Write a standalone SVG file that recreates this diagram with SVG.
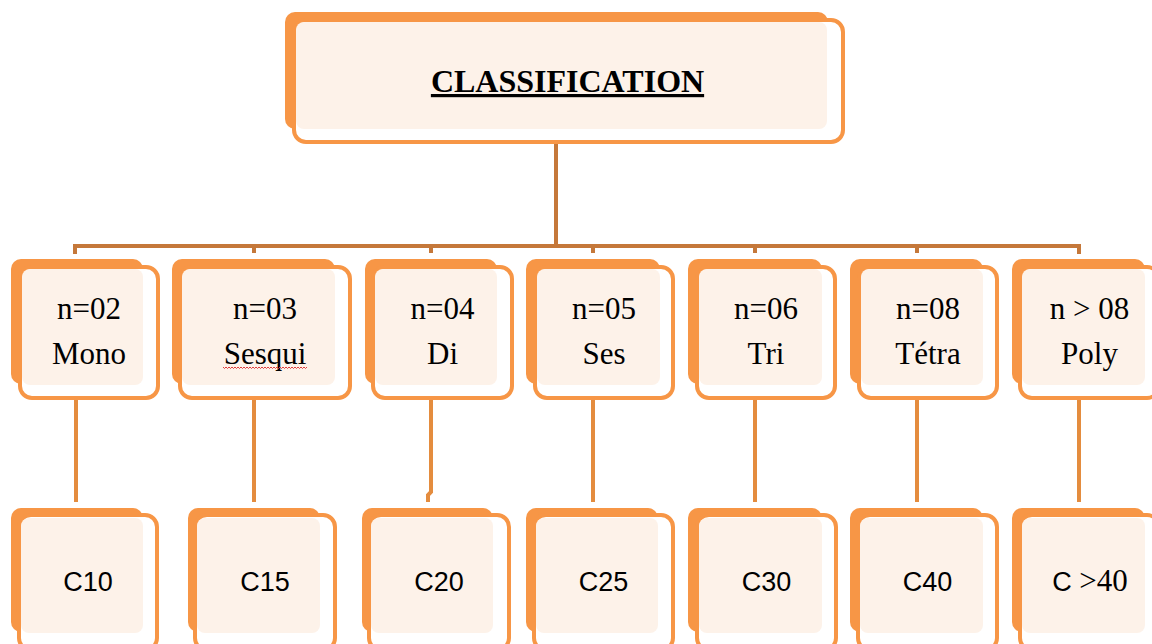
<svg xmlns="http://www.w3.org/2000/svg" width="1152" height="644" viewBox="0 0 1152 644">
  <style>
    .back{fill:#f79646}
    .frame{fill:#ffffff;stroke:#f79646;stroke-width:4}
    .face{fill:#fdf2e9}
    .lbl{font-family:"Liberation Serif","Times New Roman",serif;font-size:31px;text-anchor:middle;fill:#000}
    .c{font-family:"Liberation Sans",Arial,sans-serif;font-size:27px;text-anchor:middle;fill:#000}
    .title{font-family:"Liberation Serif","Times New Roman",serif;font-size:32px;font-weight:bold;text-anchor:middle;text-decoration:underline;fill:#000}
    .bar{fill:none;stroke:#c5783a;stroke-width:4}
    .drop{fill:none;stroke:#e48c3e;stroke-width:4}
  </style>
  <rect width="1152" height="644" fill="#ffffff"/>

  <g id="connectors">
    <path class="bar" d="M556,142 V246 M75,254 V246 H1079 V254 M254,246 V253 M431,246 V253 M593,246 V253 M755,246 V253 M917,246 V253"/>
    <path class="drop" d="M76,400 V502 M254,400 V502 M431,400 V492 L428,495 V502 M593,400 V502 M755,400 V502 M917,400 V502 M1079,400 V502"/>
  </g>

  <g id="classification">
    <rect class="back" x="285" y="12" width="543" height="117" rx="10"/>
    <rect class="frame" x="294" y="20" width="549" height="122" rx="12"/>
    <rect class="face" x="296" y="22" width="531" height="107" rx="8"/>
    <text class="title" x="567.5" y="92">CLASSIFICATION</text>
  </g>

  <g id="mono">
    <rect class="back" x="11" y="259" width="132" height="125" rx="10"/>
    <rect class="frame" x="20" y="267" width="138" height="131" rx="12"/>
    <rect class="face" x="22" y="269" width="121" height="116" rx="8"/>
    <text class="lbl" x="89" y="319">n=02</text>
    <text class="lbl" x="89" y="364">Mono</text>
  </g>
  <g id="sesqui">
    <rect class="back" x="172" y="259" width="163" height="125" rx="10"/>
    <rect class="frame" x="180" y="267" width="170" height="131" rx="12"/>
    <rect class="face" x="182" y="269" width="153" height="116" rx="8"/>
    <text class="lbl" x="265" y="319">n=03</text>
    <text class="lbl" x="265" y="364">Sesqui</text>
    <polyline fill="none" stroke="#e03c3c" stroke-width="1" points="223,367 224.5,368.5 226,367 227.5,368.5 229,367 230.5,368.5 232,367 233.5,368.5 235,367 236.5,368.5 238,367 239.5,368.5 241,367 242.5,368.5 244,367 245.5,368.5 247,367 248.5,368.5 250,367 251.5,368.5 253,367 254.5,368.5 256,367 257.5,368.5 259,367 260.5,368.5 262,367 263.5,368.5 265,367 266.5,368.5 268,367 269.5,368.5 271,367 272.5,368.5 274,367 275.5,368.5 277,367 278.5,368.5 280,367 281.5,368.5 283,367 284.5,368.5 286,367 287.5,368.5 289,367 290.5,368.5 292,367 293.5,368.5 295,367 296.5,368.5 298,367 299.5,368.5 301,367 302.5,368.5 304,367 305.5,368.5 307,367"/>
  </g>
  <g id="di">
    <rect class="back" x="365" y="259" width="132" height="125" rx="10"/>
    <rect class="frame" x="373" y="267" width="139" height="131" rx="12"/>
    <rect class="face" x="375" y="269" width="122" height="116" rx="8"/>
    <text class="lbl" x="442.5" y="319">n=04</text>
    <text class="lbl" x="442.5" y="364">Di</text>
  </g>
  <g id="ses">
    <rect class="back" x="526" y="259" width="134" height="125" rx="10"/>
    <rect class="frame" x="535" y="267" width="138" height="131" rx="12"/>
    <rect class="face" x="537" y="269" width="123" height="116" rx="8"/>
    <text class="lbl" x="604" y="319">n=05</text>
    <text class="lbl" x="604" y="364">Ses</text>
  </g>
  <g id="tri">
    <rect class="back" x="688" y="259" width="134" height="125" rx="10"/>
    <rect class="frame" x="697" y="267" width="138" height="131" rx="12"/>
    <rect class="face" x="699" y="269" width="123" height="116" rx="8"/>
    <text class="lbl" x="766" y="319">n=06</text>
    <text class="lbl" x="766" y="364">Tri</text>
  </g>
  <g id="tetra">
    <rect class="back" x="850" y="259" width="133" height="125" rx="10"/>
    <rect class="frame" x="859" y="267" width="138" height="131" rx="12"/>
    <rect class="face" x="861" y="269" width="122" height="116" rx="8"/>
    <text class="lbl" x="928" y="319">n=08</text>
    <text class="lbl" x="928" y="364">Tétra</text>
  </g>
  <g id="poly">
    <rect class="back" x="1012" y="259" width="133" height="125" rx="10"/>
    <rect class="frame" x="1020" y="267" width="139" height="131" rx="12"/>
    <rect class="face" x="1022" y="269" width="123" height="116" rx="8"/>
    <text class="lbl" x="1089.5" y="319">n &gt; 08</text>
    <text class="lbl" x="1089.5" y="364">Poly</text>
  </g>

  <g id="c10">
    <rect class="back" x="11" y="508" width="132" height="124" rx="10"/>
    <rect class="frame" x="19" y="515" width="138" height="135" rx="12"/>
    <rect class="face" x="21" y="518" width="122" height="115" rx="8"/>
    <text class="c" x="88" y="591">C10</text>
  </g>
  <g id="c15">
    <rect class="back" x="188" y="508" width="132" height="124" rx="10"/>
    <rect class="frame" x="195" y="515" width="140" height="135" rx="12"/>
    <rect class="face" x="197" y="518" width="123" height="115" rx="8"/>
    <text class="c" x="265" y="591">C15</text>
  </g>
  <g id="c20">
    <rect class="back" x="362" y="508" width="131" height="124" rx="10"/>
    <rect class="frame" x="369" y="515" width="140" height="135" rx="12"/>
    <rect class="face" x="371" y="518" width="122" height="115" rx="8"/>
    <text class="c" x="439" y="591">C20</text>
  </g>
  <g id="c25">
    <rect class="back" x="526" y="508" width="132" height="124" rx="10"/>
    <rect class="frame" x="534" y="515" width="139" height="135" rx="12"/>
    <rect class="face" x="536" y="518" width="122" height="115" rx="8"/>
    <text class="c" x="603.5" y="591">C25</text>
  </g>
  <g id="c30">
    <rect class="back" x="688" y="508" width="134" height="124" rx="10"/>
    <rect class="frame" x="697" y="515" width="139" height="135" rx="12"/>
    <rect class="face" x="699" y="518" width="123" height="115" rx="8"/>
    <text class="c" x="766.5" y="591">C30</text>
  </g>
  <g id="c40">
    <rect class="back" x="850" y="508" width="133" height="124" rx="10"/>
    <rect class="frame" x="858" y="515" width="139" height="135" rx="12"/>
    <rect class="face" x="860" y="518" width="123" height="115" rx="8"/>
    <text class="c" x="927.5" y="591">C40</text>
  </g>
  <g id="c40plus">
    <rect class="back" x="1012" y="508" width="133" height="124" rx="10"/>
    <rect class="frame" x="1020" y="515" width="139" height="135" rx="12"/>
    <rect class="face" x="1022" y="518" width="123" height="115" rx="8"/>
    <text class="c" x="1090" y="591">C <tspan font-family="'Liberation Serif','Times New Roman',serif" font-size="31">&gt;40</tspan></text>
  </g>
</svg>
